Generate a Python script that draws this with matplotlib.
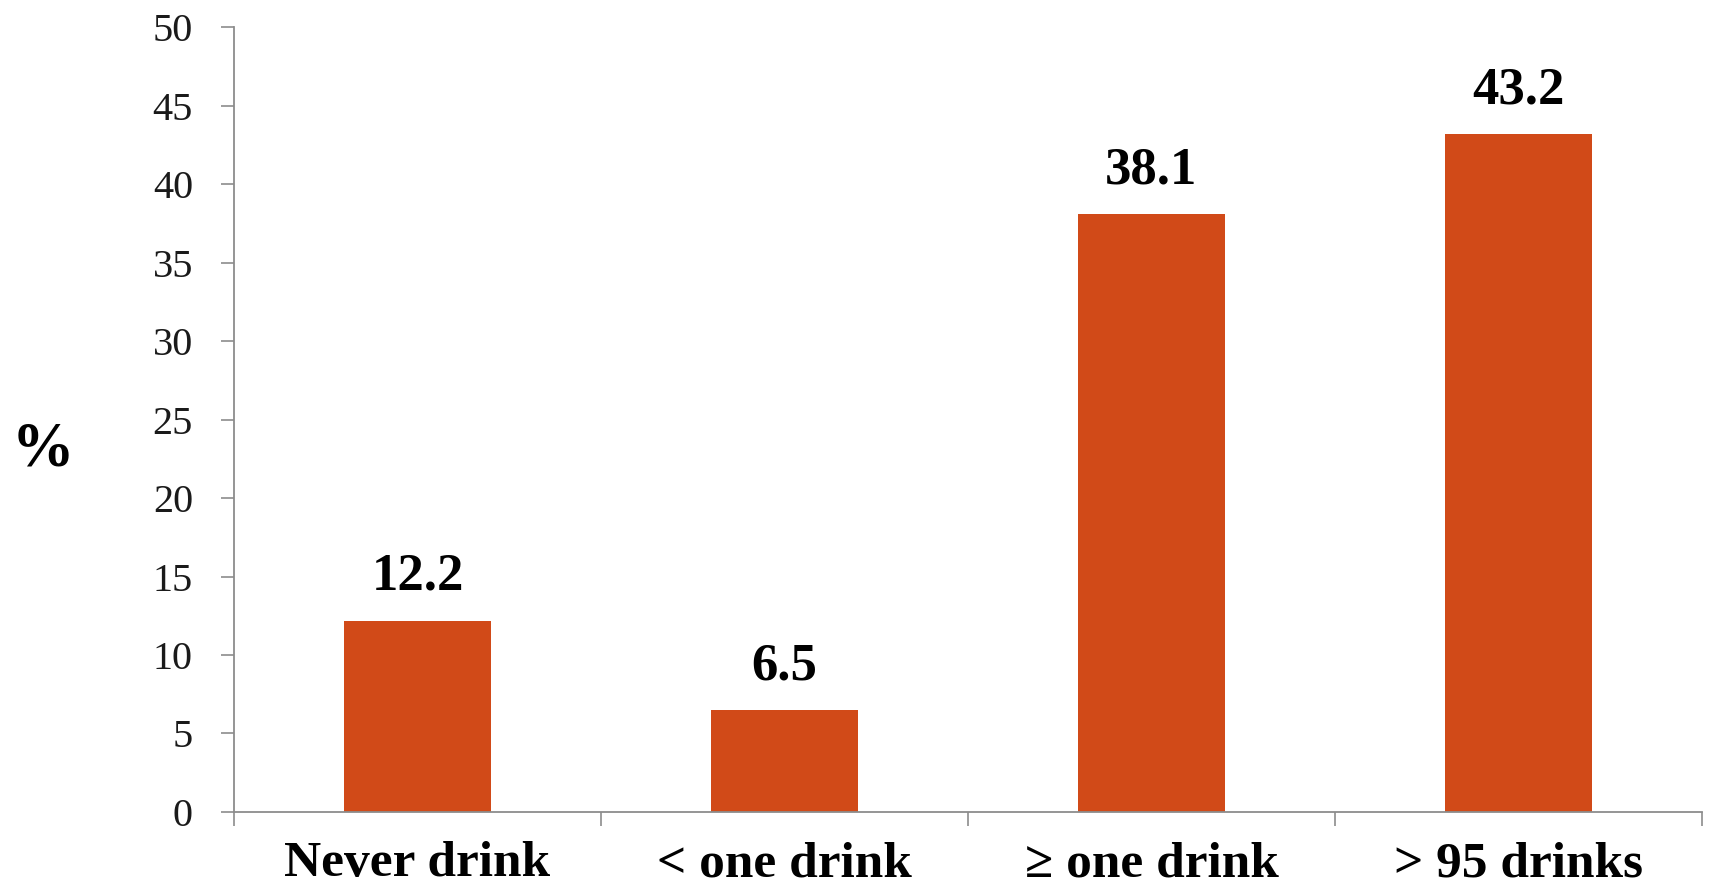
import matplotlib
matplotlib.use("Agg")
import matplotlib.pyplot as plt
import numpy as np

plt.rcParams['font.family'] = ['Liberation Serif', 'DejaVu Serif']

# Share of respondents by drinking category
categories = ["Never drink", "< one drink", "\u2265 one drink", "> 95 drinks"]
percent = [12.2, 6.5, 38.1, 43.2]
y_ticks = list(range(0, 55, 5))

bar_color = '#D14A18'
axis_color = '#8c8c8c'

fig = plt.figure(figsize=(17.09, 8.91), dpi=100)
ax = fig.add_axes([0.1369, 0.0887, 0.9959 - 0.1369, 0.9694 - 0.0887])

x = np.arange(len(categories))
bars = ax.bar(x, percent, width=0.4, color=bar_color, zorder=2)

# value labels above each bar
for xi, val in zip(x, percent):
    ax.annotate(f"{val:.1f}", (xi, val), xytext=(0, 22), textcoords='offset points',
                ha='center', va='baseline', fontsize=38, fontweight='bold', color='black')

ax.set_xlim(-0.5, len(categories) - 0.5)
ax.set_ylim(0, 50)
ax.set_yticks(y_ticks)
ax.set_yticklabels([str(t) for t in y_ticks], fontsize=29, color='#1a1a1a')

# category labels at centres, tick marks at the boundaries
ax.set_xticks(x)
ax.set_xticklabels(categories, fontsize=37, fontweight='bold')
ax.set_xticks(np.arange(-0.5, len(categories)), minor=True)
ax.tick_params(axis='x', which='major', length=0, pad=21)
ax.tick_params(axis='x', which='minor', length=10, width=1.2, color=axis_color, direction='out')
ax.tick_params(axis='y', length=9.5, width=1.2, color=axis_color, direction='out', pad=20)

for side in ['top', 'right']:
    ax.spines[side].set_visible(False)
for side in ['left', 'bottom']:
    ax.spines[side].set_color(axis_color)
    ax.spines[side].set_linewidth(1.3)

fig.text(12 / 1709, 1 - 450 / 891, "%", fontsize=45, fontweight='bold',
         ha='left', va='center')

fig.savefig("out.png", dpi=100)
